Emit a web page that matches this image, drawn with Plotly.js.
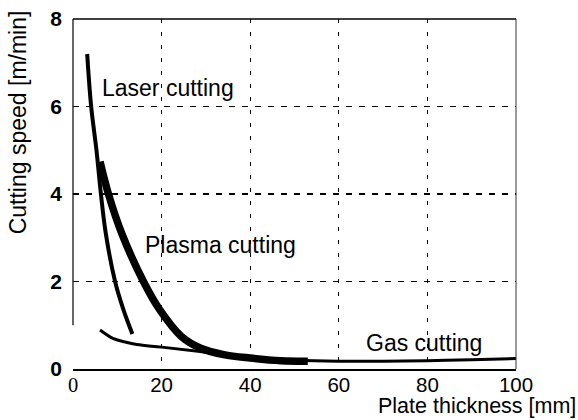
<!DOCTYPE html>
<html>
<head>
<meta charset="utf-8">
<script src="https://cdn.plot.ly/plotly-3.0.1.min.js"></script>
<style>html,body{margin:0;padding:0;background:#fff;}#chart{width:578px;height:420px;}</style>
</head>
<body>
<div id="chart"></div>
<script>
// Data
const laserX  = [3.2, 4.1, 5.3, 6.3, 7.4, 9.5, 11.4, 13.4];
const laserY  = [7.2, 6.0, 5.0, 4.0, 3.1, 2.0, 1.35, 0.8];
const plasmaX = [6.1, 8.0, 11.0, 15.9, 19.6, 24.5, 28.7, 34, 40, 47, 53];
const plasmaY = [4.74, 4.0, 3.1, 2.0, 1.35, 0.74, 0.48, 0.33, 0.25, 0.19, 0.18];
const gasX    = [6.1, 9, 11.7, 14.4, 20, 28.7, 40, 50, 60, 70, 80, 90, 100];
const gasY    = [0.89, 0.7, 0.62, 0.56, 0.5, 0.4, 0.25, 0.2, 0.18, 0.18, 0.19, 0.21, 0.24];
const xTickVals = [0, 20, 40, 60, 80, 100];
const xTickText = ["<span style='font-family:Liberation Serif'>0</span>", "20", "40", "60", "80", "100"];
const yTickVals = [0, 2, 4, 6, 8];
const labels = [
  {text: "Laser cutting", x: 21.5, y: 6.43},
  {text: "Plasma cutting", x: 33.2, y: 2.84},
  {text: "Gas cutting", x: 79.2, y: 0.6}
];

const font = "Liberation Sans, Arial, sans-serif";
const traces = [
  {x: gasX, y: gasY, mode: "lines", line: {color: "#000", width: 3, shape: "spline", smoothing: 1}},
  {x: laserX, y: laserY, mode: "lines", line: {color: "#000", width: 4, shape: "spline", smoothing: 1}},
  {x: plasmaX, y: plasmaY, mode: "lines", line: {color: "#000", width: 7.5, shape: "spline", smoothing: 1}}
];

const annotations = labels.map(l => ({
  text: l.text, x: l.x, y: l.y, xref: "x", yref: "y", showarrow: false,
  xanchor: "center", yanchor: "middle",
  font: {family: font, size: 23, color: "#000"}
}));
annotations.push({
  text: "Cutting speed [m/min]", xref: "paper", yref: "paper", x: -0.124, y: 0.705,
  xanchor: "center", yanchor: "middle",
  textangle: -90, showarrow: false, font: {family: font, size: 23, color: "#000"}
});
annotations.push({
  text: "Plate thickness [mm]", xref: "paper", yref: "paper", x: 1.138, y: -0.1437,
  xanchor: "right", yanchor: "bottom", borderpad: 0, showarrow: false,
  font: {family: font, size: 21.5, color: "#000"}
});

const layout = {
  width: 578, height: 420,
  margin: {l: 73, r: 62, t: 19, b: 51},
  paper_bgcolor: "#fff", plot_bgcolor: "#fff",
  showlegend: false,
  xaxis: {
    range: [0, 100], tickvals: xTickVals, ticktext: xTickText,
    showgrid: true, gridcolor: "#000", gridwidth: 1.3, griddash: "4px,9px",
    zeroline: false, showline: true, linecolor: "#000", linewidth: 1.5,
    ticks: "", ticklabelstandoff: -3,
    tickfont: {family: font, size: 20.5, color: "#000"}
  },
  yaxis: {
    range: [0, 8], tickvals: yTickVals,
    showgrid: true, gridcolor: "#000", gridwidth: 1.1, griddash: "6px,7px",
    zeroline: false, showline: false,
    ticks: "", ticklabelstandoff: 10,
    tickfont: {family: font, size: 21, color: "#000", weight: "bold"}
  },
  shapes: [
    {type: "line", xref: "paper", yref: "paper", x0: 0, x1: 1, y0: 1, y1: 1, line: {color: "#000", width: 1.5}},
    {type: "line", xref: "paper", yref: "paper", x0: 1, x1: 1, y0: 0, y1: 1, line: {color: "#333", width: 1}},
    {type: "line", xref: "paper", yref: "y", x0: 0, x1: 0, y0: 1, y1: 8, line: {color: "#000", width: 1.2}}
  ],
  annotations: annotations
};

Plotly.newPlot("chart", traces, layout, {displayModeBar: false, staticPlot: true});
</script>
</body>
</html>
